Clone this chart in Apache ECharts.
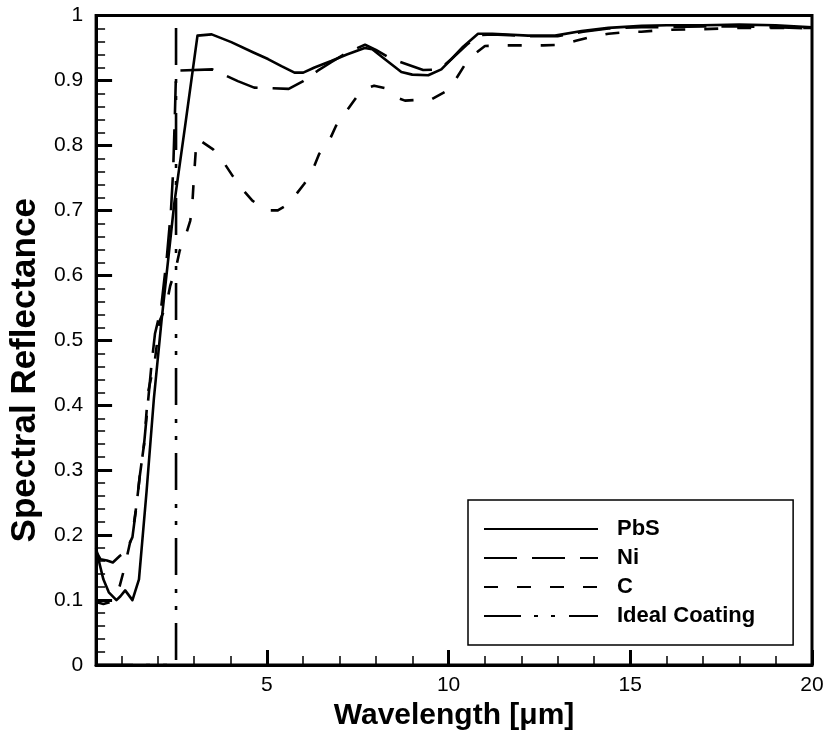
<!DOCTYPE html>
<html>
<head>
<meta charset="utf-8">
<script src="https://cdn.jsdelivr.net/npm/echarts@6/dist/echarts.min.js"></script>
<style>
html,body{margin:0;padding:0;background:#fff;}
#chart{width:828px;height:736px;}
</style>
</head>
<body>
<div id="chart"></div>
<script>
// ---- data (wavelength in micrometres, spectral reflectance) ----
const seriesNames = ['PbS', 'Ni', 'C', 'Ideal Coating'];

const pbsX = [0.3,0.4,0.5,0.65,0.86,0.97,1.1,1.3,1.48,1.69,1.89,2.1,2.45,2.75,3.09,3.48,4.02,4.63,5.03,5.4,5.76,6.0,6.31,6.77,7.2,7.69,7.9,8.24,8.7,9.0,9.44,9.8,10.08,10.4,10.81,11.2,12.19,12.93,13.66,14.4,15.31,16,17,18,19,20];
const pbsY = [0.18,0.155,0.132,0.112,0.100,0.106,0.115,0.100,0.132,0.268,0.41,0.53,0.71,0.83,0.969,0.971,0.959,0.943,0.933,0.922,0.912,0.912,0.920,0.930,0.940,0.950,0.948,0.933,0.913,0.909,0.908,0.917,0.933,0.952,0.972,0.972,0.969,0.969,0.976,0.981,0.984,0.985,0.985,0.986,0.985,0.982];

const niX = [0.3,0.42,0.6,0.76,0.95,1.12,1.3,1.4,1.5,1.62,1.72,1.82,1.92,2.09,2.25,2.36,2.42,2.47,2.5,3.5,4.2,4.65,5.6,6.0,6.4,6.77,7.2,7.7,8.0,8.43,9.3,9.75,10.08,10.5,10.85,11.2,12.2,13.0,13.7,14.4,15.3,16,17,18,19,20];
const niY = [0.175,0.163,0.161,0.158,0.168,0.175,0.197,0.24,0.29,0.34,0.40,0.46,0.51,0.55,0.63,0.70,0.76,0.85,0.915,0.917,0.899,0.889,0.887,0.899,0.915,0.928,0.943,0.955,0.947,0.933,0.916,0.917,0.933,0.955,0.970,0.971,0.968,0.968,0.975,0.980,0.982,0.982,0.983,0.983,0.982,0.980];

const cX = [0.3,0.5,0.7,0.85,0.95,1.06,1.2,1.32,1.42,1.5,1.62,1.73,1.92,2.05,2.23,2.34,2.5,2.6,2.72,2.89,2.94,2.98,3.04,3.1,3.52,3.74,4.07,4.27,4.6,5.0,5.3,5.6,6.03,6.22,6.44,6.69,6.9,7.13,7.46,7.74,7.95,8.26,8.56,8.8,9.1,9.5,9.99,10.2,10.49,10.77,11.0,11.6,12.2,12.6,13.1,13.5,14.0,14.4,15.0,15.3,16,17,18,19,20];
const cY = [0.097,0.094,0.097,0.11,0.122,0.145,0.18,0.21,0.25,0.29,0.34,0.42,0.47,0.53,0.553,0.584,0.612,0.638,0.653,0.684,0.702,0.74,0.79,0.81,0.794,0.78,0.752,0.736,0.715,0.70,0.70,0.71,0.741,0.757,0.787,0.804,0.83,0.848,0.874,0.888,0.892,0.888,0.874,0.869,0.870,0.870,0.885,0.902,0.928,0.943,0.953,0.954,0.954,0.954,0.955,0.961,0.968,0.972,0.975,0.975,0.978,0.979,0.981,0.981,0.981];

const idealX = [0.3,2.5,2.5,20];
const idealY = [0,0,1,1];

const xMajorTicks = [5,10,15,20];
const xMinorTicks = [1,2,3,4,6,7,8,9,11,12,13,14,16,17,18,19];
const xMin = 0.3, xMax = 20;
const yMin = 0, yMax = 1, yStep = 0.1;

const zip = (xs, ys) => xs.map((x, i) => [x, ys[i]]);

const FONT = '"Liberation Sans", Arial, sans-serif';
const chart = echarts.init(document.getElementById('chart'), null, {renderer: 'canvas'});

function lineSeries(name, xs, ys, type) {
  return {
    name: name, type: 'line', data: zip(xs, ys),
    xAxisIndex: 0, yAxisIndex: 0,
    showSymbol: false, symbol: 'none', smooth: false,
    lineStyle: {color: '#000', width: 2.6, type: type, cap: 'butt', join: 'round'},
    itemStyle: {color: '#000'},
    animation: false
  };
}

chart.setOption({
  animation: false,
  backgroundColor: '#fff',
  grid: {left: 95, right: 16, top: 15.5, bottom: 68, show: true, borderColor: '#000', borderWidth: 3, backgroundColor: 'transparent'},
  xAxis: [{
    type: 'value', min: xMin, max: xMax, position: 'bottom',
    name: 'Wavelength [\u03bcm]', nameLocation: 'middle', nameGap: 30,
    nameTextStyle: {fontFamily: FONT, fontWeight: 'bold', fontSize: 30, color: '#000'},
    axisLine: {show: true, onZero: false, lineStyle: {color: '#000', width: 3}},
    axisTick: {show: true, inside: true, length: 15, customValues: xMajorTicks, lineStyle: {color: '#000', width: 3}},
    axisLabel: {show: true, customValues: xMajorTicks, margin: 10, fontFamily: FONT, fontSize: 21, color: '#000'},
    splitLine: {show: false}
  }, {
    type: 'value', min: xMin, max: xMax, position: 'bottom',
    axisLine: {show: false},
    axisTick: {show: true, inside: true, length: 9, customValues: xMinorTicks, lineStyle: {color: '#000', width: 1.5}},
    axisLabel: {show: false},
    splitLine: {show: false}
  }],
  yAxis: [{
    type: 'value', min: yMin, max: yMax, interval: yStep,
    name: 'Spectral Reflectance', nameLocation: 'middle', nameGap: 47,
    nameTextStyle: {fontFamily: FONT, fontWeight: 'bold', fontSize: 35, color: '#000', padding: [0, 60, 0, 0]},
    axisLine: {show: true, onZero: false, lineStyle: {color: '#000', width: 3}},
    axisTick: {show: true, inside: true, length: 16, lineStyle: {color: '#000', width: 3}},
    minorTick: {show: true, splitNumber: 5, length: 9, lineStyle: {color: '#000', width: 1.5}},
    axisLabel: {margin: 13, fontFamily: FONT, fontSize: 21, color: '#000'},
    splitLine: {show: false}
  }],
  legend: {
    show: true, orient: 'vertical', left: 468, top: 500,
    data: seriesNames,
    itemWidth: 114, itemHeight: 14, itemGap: 7,
    padding: [18, 38, 18, 15],
    borderColor: '#000', borderWidth: 1.5, backgroundColor: '#fff',
    itemStyle: {opacity: 0, borderWidth: 0},
    textStyle: {fontFamily: FONT, fontWeight: 'bold', fontSize: 22, color: '#000', padding: [0, 0, 0, 14]},
    selectedMode: false
  },
  series: [
    lineSeries('PbS', pbsX, pbsY, 'solid'),
    lineSeries('Ni', niX, niY, [33, 15]),
    lineSeries('C', cX, cY, [14, 19]),
    lineSeries('Ideal Coating', idealX, idealY, [37, 13, 4, 13, 4, 14])
  ]
});
</script>
</body>
</html>
